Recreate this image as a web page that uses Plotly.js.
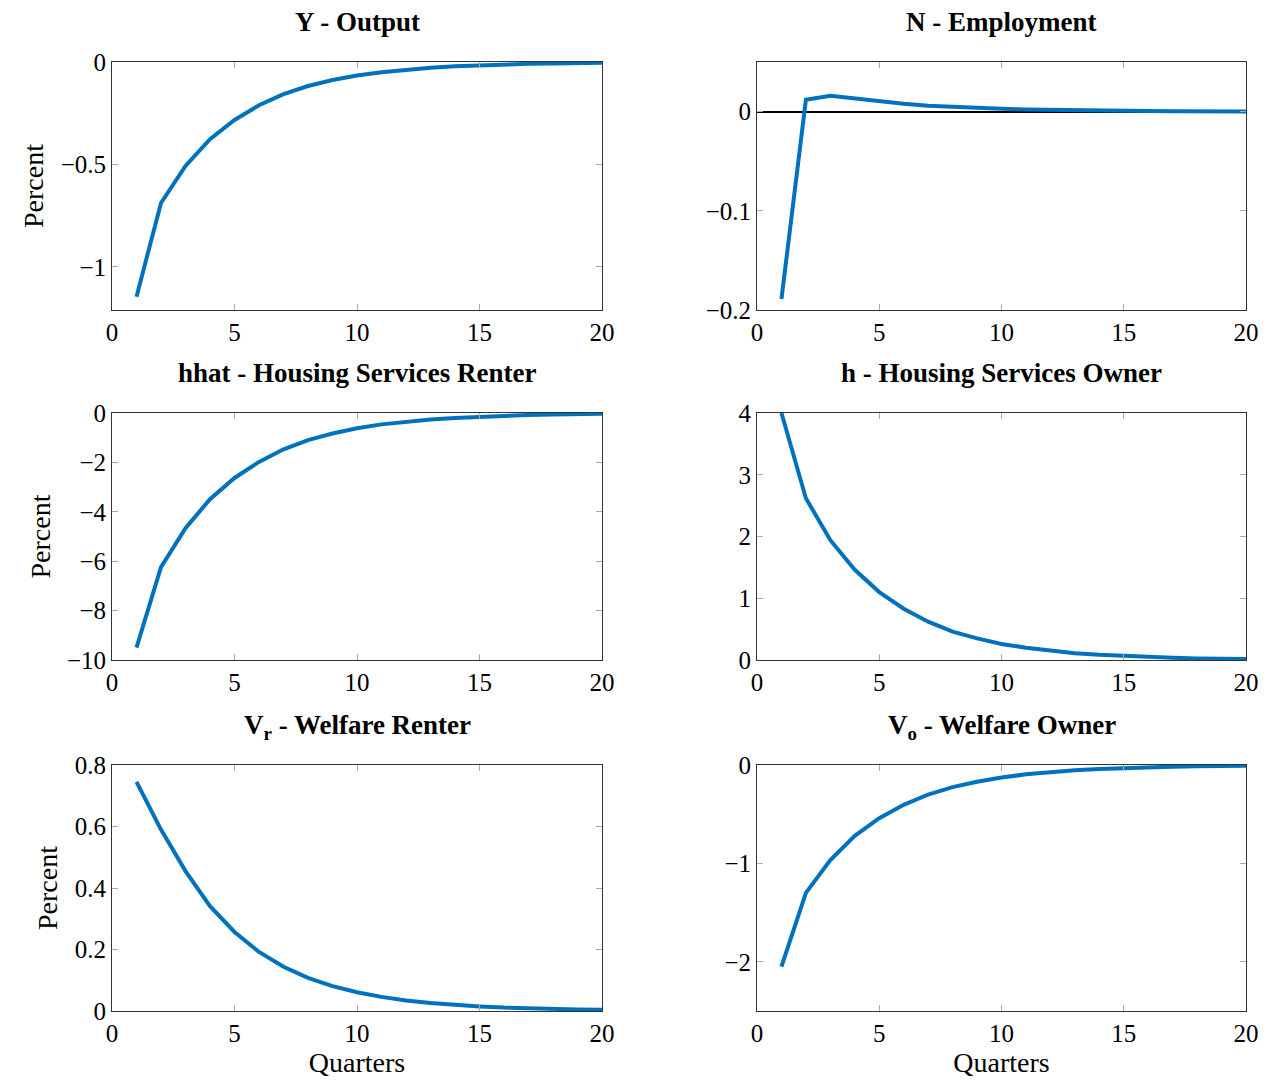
<!DOCTYPE html>
<html>
<head>
<meta charset="utf-8">
<script src="https://cdn.plot.ly/plotly-3.0.1.min.js"></script>
<style>html,body{margin:0;padding:0;background:#fff;}#chart{width:1273px;height:1085px;}</style>
</head>
<body>
<div id="chart"></div>
<script>
const quarters = [1,2,3,4,5,6,7,8,9,10,11,12,13,14,15,16,17,18,19,20];
const outputY = [-1.145,-0.688,-0.507,-0.377,-0.283,-0.211,-0.157,-0.117,-0.088,-0.066,-0.050,-0.038,-0.028,-0.021,-0.016,-0.012,-0.009,-0.007,-0.005,-0.004];
const employmentN = [-0.189,0.012,0.016,0.013,0.010,0.0078,0.0060,0.0046,0.0036,0.0028,0.0022,0.0017,0.0013,0.0010,0.0008,0.0006,0.0004,0.0003,0.0002,0.0001];
const hhatRenter = [-9.5,-6.24,-4.66,-3.49,-2.63,-1.98,-1.47,-1.10,-0.83,-0.62,-0.46,-0.35,-0.26,-0.20,-0.15,-0.11,-0.08,-0.06,-0.045,-0.034];
const hOwner = [4.0,2.62,1.94,1.46,1.10,0.83,0.62,0.46,0.35,0.26,0.20,0.15,0.11,0.083,0.062,0.047,0.035,0.026,0.020,0.015];
const welfareRenter = [0.745,0.59,0.455,0.341,0.257,0.192,0.144,0.108,0.081,0.061,0.046,0.034,0.026,0.019,0.015,0.011,0.008,0.006,0.005,0.004];
const welfareOwner = [-2.05,-1.30,-0.965,-0.72,-0.54,-0.405,-0.30,-0.225,-0.17,-0.127,-0.095,-0.071,-0.053,-0.040,-0.030,-0.022,-0.017,-0.013,-0.010,-0.007];

const panelTitles = ["<b>Y - Output</b>","<b>N - Employment</b>","<b>hhat - Housing Services Renter</b>","<b>h - Housing Services Owner</b>","<b>V<sub>r</sub> - Welfare Renter</b>","<b>V<sub>o</sub> - Welfare Owner</b>"];
const series = [outputY, employmentN, hhatRenter, hOwner, welfareRenter, welfareOwner];
const yRanges = [[-1.21,0],[-0.2,0.05],[-10,0],[0,4],[0,0.8],[-2.5,0]];
const yTicks = [[-1,-0.5,0],[-0.2,-0.1,0],[-10,-8,-6,-4,-2,0],[0,1,2,3,4],[0,0.2,0.4,0.6,0.8],[-2,-1,0]];
const xTicks = [0,5,10,15,20];

const W = 1273, H = 1085;
const colPx = [[112,602],[757,1246]];
const rowPx = [[62,310],[413,660],[765,1011]];
const titleY = [22,373,727];
const FONT = "Liberation Serif, DejaVu Serif, serif";

const traces = [];
const layout = {
  width: W, height: H,
  margin: {l:0,r:0,t:0,b:0},
  paper_bgcolor: "#fff", plot_bgcolor: "#fff",
  showlegend: false,
  font: {family: FONT, size: 25, color: "#000"},
  annotations: []
};

for (let i = 0; i < 6; i++) {
  const r = Math.floor(i/2), c = i % 2;
  const n = i + 1;
  const sfx = n === 1 ? "" : String(n);
  const common = {
    showline: true, linecolor: "#333", linewidth: 1, mirror: "ticks",
    ticks: "inside", ticklen: 6, tickcolor: "#aaa", tickwidth: 1,
    showgrid: false, tickfont: {family: FONT, size: 25, color: "#000"}
  };
  traces.push({
    x: quarters, y: series[i], type: "scatter", mode: "lines",
    line: {color: "#0072BD", width: 4},
    xaxis: "x" + sfx, yaxis: "y" + sfx, hoverinfo: "skip"
  });
  layout["xaxis" + sfx] = Object.assign({}, common, {
    domain: [colPx[c][0]/W, colPx[c][1]/W],
    range: [0,20], tickvals: xTicks, zeroline: false, anchor: "y" + sfx
  });
  if (r === 2) layout["xaxis" + sfx].title = {text: "Quarters", font: {family: FONT, size: 28}, standoff: 6};
  layout["yaxis" + sfx] = Object.assign({}, common, {
    domain: [1 - rowPx[r][1]/H, 1 - rowPx[r][0]/H],
    range: yRanges[i], tickvals: yTicks[i],
    zeroline: true, zerolinecolor: "#000", zerolinewidth: 2, anchor: "x" + sfx
  });
  if (c === 0) layout["yaxis" + sfx].title = {text: "Percent", font: {family: FONT, size: 28}, standoff: 8};
  layout.annotations.push({
    text: panelTitles[i], xref: "paper", yref: "paper",
    x: (colPx[c][0]+colPx[c][1])/2/W, y: 1 - titleY[r]/H,
    xanchor: "center", yanchor: "middle", showarrow: false,
    font: {family: FONT, size: 27, color: "#000"}
  });
}

Plotly.newPlot("chart", traces, layout, {displayModeBar: false, staticPlot: true});
</script>
</body>
</html>
